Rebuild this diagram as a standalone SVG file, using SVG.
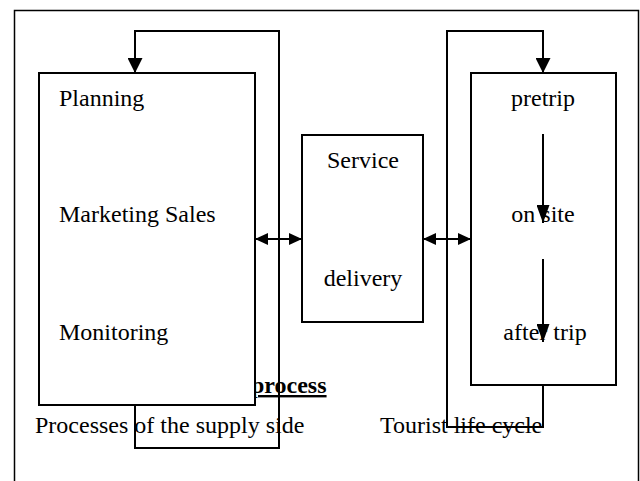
<svg xmlns="http://www.w3.org/2000/svg" width="640" height="481" viewBox="0 0 640 481">
  <style>
    .box { fill: #fff; stroke: #000; stroke-width: 2; }
    .frame { fill: none; stroke: #000; stroke-width: 1.5; }
    .wire { fill: none; stroke: #000; stroke-width: 2; }
    text { font-family: "Liberation Serif", "Times New Roman", serif; font-size: 24px; fill: #000; }
    .mid { text-anchor: middle; }
    .bold { font-weight: bold; text-decoration: underline; }
  </style>
  <defs>
    <marker id="head" markerUnits="userSpaceOnUse" markerWidth="15" markerHeight="15" refX="15" refY="7.5" orient="auto-start-reverse">
      <path d="M0,0 L15,7.5 L0,15 Z" fill="#000"/>
    </marker>
    <marker id="headLong" markerUnits="userSpaceOnUse" markerWidth="18" markerHeight="13" refX="18" refY="6.5" orient="auto-start-reverse">
      <path d="M0,0 L18,6.5 L0,13 Z" fill="#000"/>
    </marker>
    <marker id="headSmall" markerUnits="userSpaceOnUse" markerWidth="13" markerHeight="12" refX="13" refY="6" orient="auto-start-reverse">
      <path d="M0,0 L13,6 L0,12 Z" fill="#000"/>
    </marker>
  </defs>

  <!-- page frame -->
  <rect class="frame" x="14.5" y="10.5" width="624" height="490"/>

  <!-- free labels -->
  <g id="labels">
    <text class="bold" x="251" y="393">process</text>
    <text x="35" y="433">Processes of the supply side</text>
    <text x="380" y="433">Tourist life cycle</text>
  </g>

  <!-- supply-side processes -->
  <g id="supply">
    <rect class="box" x="39" y="73" width="216" height="332"/>
    <text x="59" y="106">Planning</text>
    <text x="59" y="222">Marketing Sales</text>
    <text x="59" y="340">Monitoring</text>
  </g>

  <!-- service delivery -->
  <g id="service">
    <rect class="box" x="302" y="135" width="121" height="187"/>
    <text class="mid" x="363" y="168">Service</text>
    <text class="mid" x="363" y="286">delivery</text>
  </g>

  <!-- tourist life cycle -->
  <g id="tourist">
    <rect class="box" x="471" y="73" width="145" height="312"/>
    <text class="mid" x="543" y="106">pretrip</text>
    <text class="mid" x="543" y="222">on site</text>
    <text class="mid" x="545" y="340">after trip</text>
  </g>

  <!-- connectors -->
  <g id="connectors">
    <path class="wire" d="M135,405 V448 H279 V31 H135 V73" marker-end="url(#head)"/>
    <path class="wire" d="M543,385 V427 H447 V31 H543 V73" marker-end="url(#head)"/>
    <path class="wire" d="M255,239 H302" marker-start="url(#headSmall)" marker-end="url(#headSmall)"/>
    <path class="wire" d="M423,239 H471" marker-start="url(#headSmall)" marker-end="url(#headSmall)"/>
    <path class="wire" d="M543,134 V223" marker-end="url(#headLong)"/>
    <path class="wire" d="M543,259 V342" marker-end="url(#headLong)"/>
  </g>
</svg>
